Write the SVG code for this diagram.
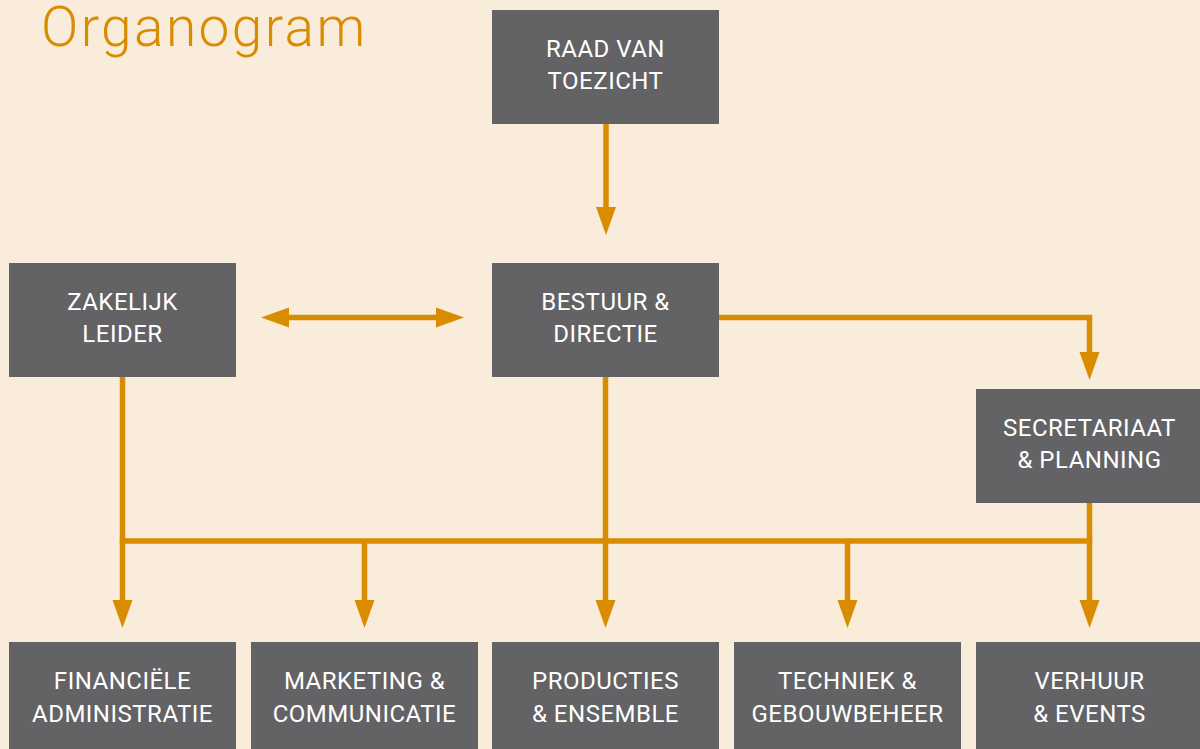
<svg xmlns="http://www.w3.org/2000/svg" width="1200" height="749" viewBox="0 0 1200 749">
<style>
.box{fill:#636365;}
.lbl{font-family:Roboto,"Liberation Sans",sans-serif;font-size:24px;letter-spacing:0.5px;fill:#ffffff;text-anchor:middle;}
.ln{stroke:#DA8C00;stroke-width:5.5;fill:none;}
.title{font-family:Roboto,"Liberation Sans",sans-serif;font-weight:300;font-size:55px;letter-spacing:2.4px;fill:#DA8C00;}
</style>
<defs>
<marker id="ah" markerUnits="userSpaceOnUse" markerWidth="28" markerHeight="20" refX="0" refY="10" orient="auto-start-reverse" overflow="visible">
<path d="M0,0 L28,10 L0,20 z" fill="#DA8C00"/>
</marker>
</defs>
<rect width="1200" height="749" fill="#F9ECDA"/>
<text class="title" x="41" y="46">Organogram</text>
<g id="connectors">
<line class="ln" x1="606" y1="124" x2="606" y2="207" marker-end="url(#ah)"/>
<line class="ln" x1="289" y1="317.5" x2="436" y2="317.5" marker-start="url(#ah)" marker-end="url(#ah)"/>
<polyline class="ln" points="719,317.5 1089.5,317.5 1089.5,352" marker-end="url(#ah)"/>
<line class="ln" x1="122.5" y1="377" x2="122.5" y2="600" marker-end="url(#ah)"/>
<line class="ln" x1="605.5" y1="377" x2="605.5" y2="600" marker-end="url(#ah)"/>
<line class="ln" x1="1089.5" y1="503" x2="1089.5" y2="600" marker-end="url(#ah)"/>
<line class="ln" x1="364.5" y1="541" x2="364.5" y2="600" marker-end="url(#ah)"/>
<line class="ln" x1="847.5" y1="541" x2="847.5" y2="600" marker-end="url(#ah)"/>
<line class="ln" x1="119.75" y1="541" x2="1092.25" y2="541"/>
</g>
<g id="raad"><rect class="box" x="492" y="10" width="227" height="114"/><text class="lbl" x="605.5" y="57">RAAD VAN</text><text class="lbl" x="605.5" y="89">TOEZICHT</text></g>
<g id="zakelijk"><rect class="box" x="9" y="263" width="227" height="114"/><text class="lbl" x="122.5" y="310">ZAKELIJK</text><text class="lbl" x="122.5" y="342">LEIDER</text></g>
<g id="bestuur"><rect class="box" x="492" y="263" width="227" height="114"/><text class="lbl" x="605.5" y="310">BESTUUR &amp;</text><text class="lbl" x="605.5" y="342">DIRECTIE</text></g>
<g id="secretariaat"><rect class="box" x="976" y="389" width="227" height="114"/><text class="lbl" x="1089.5" y="436">SECRETARIAAT</text><text class="lbl" x="1089.5" y="468">&amp; PLANNING</text></g>
<g id="financien"><rect class="box" x="9" y="642" width="227" height="114"/><text class="lbl" x="122.5" y="689">FINANCIËLE</text><text class="lbl" x="122.5" y="722">ADMINISTRATIE</text></g>
<g id="marketing"><rect class="box" x="251" y="642" width="227" height="114"/><text class="lbl" x="364.5" y="689">MARKETING &amp;</text><text class="lbl" x="364.5" y="722">COMMUNICATIE</text></g>
<g id="producties"><rect class="box" x="492" y="642" width="227" height="114"/><text class="lbl" x="605.5" y="689">PRODUCTIES</text><text class="lbl" x="605.5" y="722">&amp; ENSEMBLE</text></g>
<g id="techniek"><rect class="box" x="734" y="642" width="227" height="114"/><text class="lbl" x="847.5" y="689">TECHNIEK &amp;</text><text class="lbl" x="847.5" y="722">GEBOUWBEHEER</text></g>
<g id="verhuur"><rect class="box" x="976" y="642" width="227" height="114"/><text class="lbl" x="1089.5" y="689">VERHUUR</text><text class="lbl" x="1089.5" y="722">&amp; EVENTS</text></g>
</svg>
